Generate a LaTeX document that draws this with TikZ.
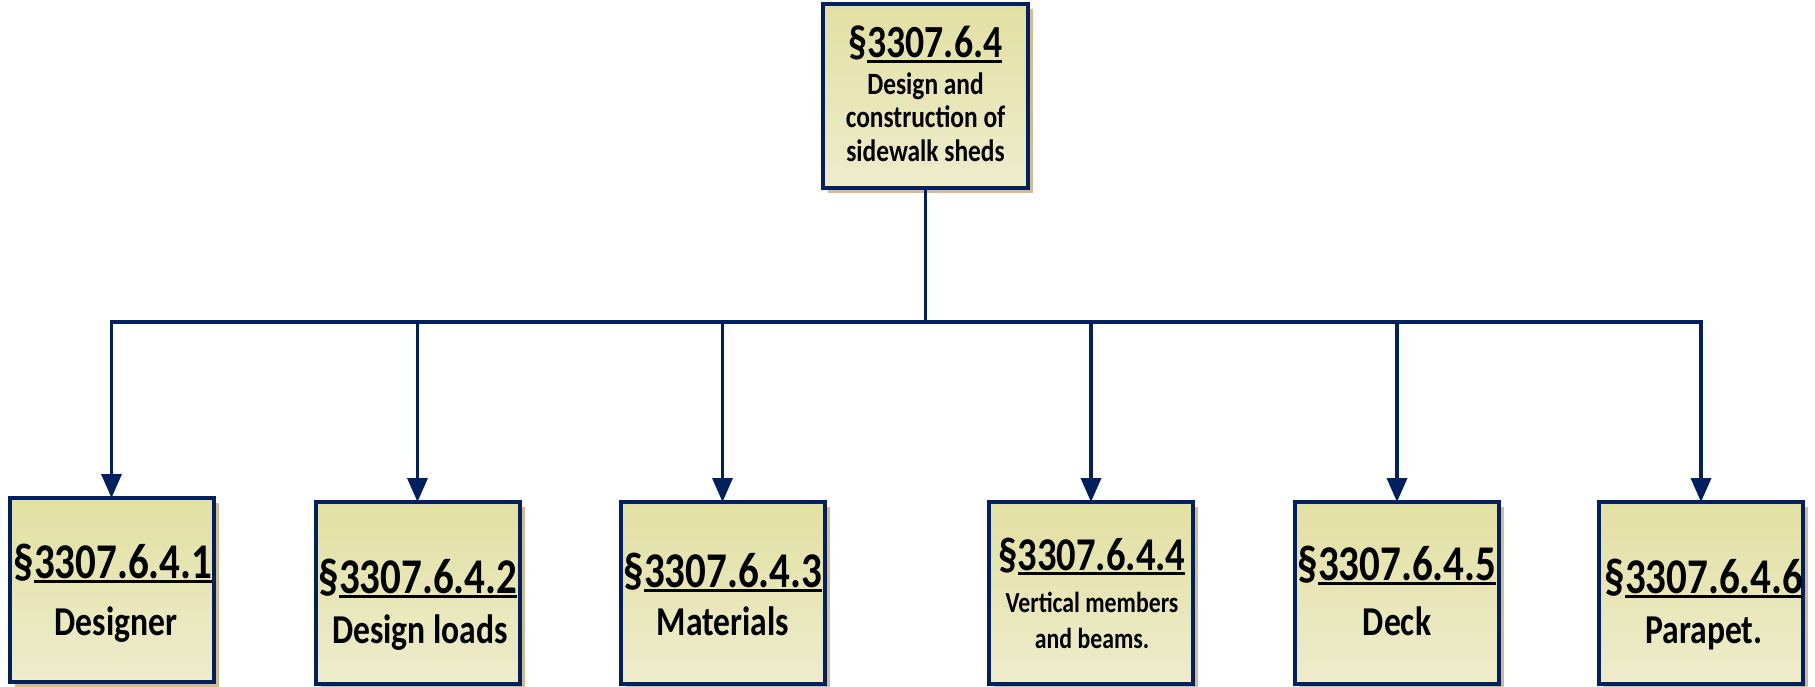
\documentclass[tikz,border=0pt]{standalone}
\usepackage{fontspec}
\setmainfont{Carlito}[FakeStretch=0.82]
\usetikzlibrary{arrows.meta,shadows}
\definecolor{navy}{RGB}{0,32,96}
\definecolor{boxtop}{RGB}{226,224,162}
\definecolor{boxbot}{RGB}{238,236,204}
\definecolor{shad}{RGB}{214,186,146}
\newcommand{\ttl}[2]{\fontsize{#1}{#1}\selectfont\S\setbox0\hbox{#2}\rlap{\rule[-5pt]{\wd0}{2.8pt}}\box0}
\newcommand{\bdy}[2]{\fontsize{#1}{#1}\selectfont #2}
\begin{document}
\begin{tikzpicture}[x=1pt,y=-1pt,
  secbox/.style={draw=navy,line width=4pt,top color=boxtop,bottom color=boxbot,
    inner sep=0pt,outer sep=0pt,minimum width=204pt,minimum height=182pt,
    drop shadow={shadow xshift=5pt,shadow yshift=-5pt,fill=shad,opacity=1}},
  conn/.style={draw=navy,line width=3.5pt},
  arr/.style={conn,-{Triangle[width=20pt,length=24pt]}},
  lbl/.style={anchor=base,inner sep=0pt,font=\bfseries}]
\useasboundingbox (0,0) rectangle (1815,687);

% boxes
\node[secbox,minimum width=205pt,minimum height=184pt] (top) at (925.5,96) {};
\node[secbox,minimum height=184pt] (b1) at (111.5,590) {};
\node[secbox] (b2) at (417.5,593) {};
\node[secbox] (b3) at (722.5,593) {};
\node[secbox] (b4) at (1091,593) {};
\node[secbox] (b5) at (1397,593) {};
\node[secbox] (b6) at (1701,593) {};

% connectors
\coordinate (j) at (925.5,322);
\draw[conn] (top.south) -- (j);
\foreach \b in {b1,b2,b3,b4,b5,b6}{
  \draw[arr] (j) -| (\b.north);
}

% texts
\node[lbl] (t0) at (925.5,58) {\ttl{46}{3307.6.4}};
\node[lbl] (t0a) at (925.5,95) {\bdy{31}{Design and}};
\node[lbl] (t0b) at (925.5,128) {\bdy{31}{construction of}};
\node[lbl] (t0c) at (925.5,162) {\bdy{31}{sidewalk sheds}};

\node[lbl] (t1) at (113,578) {\ttl{50}{3307.6.4.1}};
\node[lbl] (t1a) at (116,635) {\bdy{41}{Designer}};

\node[lbl] (t2) at (418,593) {\ttl{50}{3307.6.4.2}};
\node[lbl] (t2a) at (420,643) {\bdy{41}{Design loads}};

\node[lbl] (t3) at (723,587) {\ttl{50}{3307.6.4.3}};
\node[lbl] (t3a) at (723,635) {\bdy{41}{Materials}};

\node[lbl] (t4) at (1092,570) {\ttl{47}{3307.6.4.4}};
\node[lbl] (t4a) at (1092,612) {\bdy{29}{Vertical members}};
\node[lbl] (t4b) at (1092,648) {\bdy{29}{and beams.}};

\node[lbl] (t5) at (1397,580) {\ttl{50}{3307.6.4.5}};
\node[lbl] (t5a) at (1397,635) {\bdy{41}{Deck}};

\node[lbl] (t6) at (1704,593) {\ttl{50}{3307.6.4.6}};
\node[lbl] (t6a) at (1704,643) {\bdy{41}{Parapet.}};
\end{tikzpicture}
\end{document}
